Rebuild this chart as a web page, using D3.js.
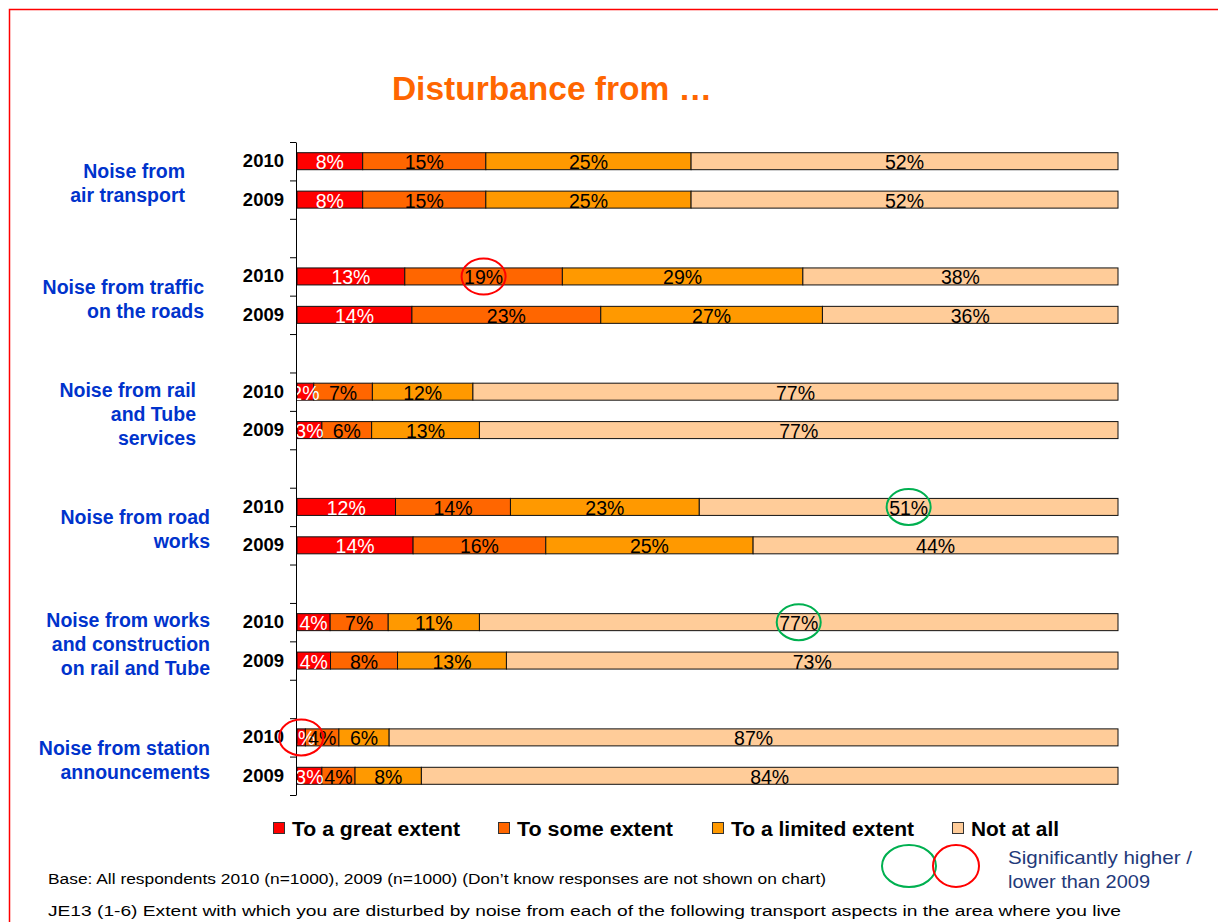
<!DOCTYPE html>
<html>
<head>
<meta charset="utf-8">
<script src="https://cdn.jsdelivr.net/npm/d3@7"></script>
<style>
  html, body { margin: 0; padding: 0; background: #fff; }
  svg { display: block; font-family: "Liberation Sans", Arial, sans-serif; }
</style>
</head>
<body>
<svg id="chart" width="1218" height="922"></svg>
<script>
const categories = [
  ["Noise from", "air transport"],
  ["Noise from traffic", "on the roads"],
  ["Noise from rail", "and Tube", "services"],
  ["Noise from road", "works"],
  ["Noise from works", "and construction", "on rail and Tube"],
  ["Noise from station", "announcements"]
];
const years = ["2010", "2009"];
const seriesNames = ["To a great extent", "To some extent", "To a limited extent", "Not at all"];
const seriesColors = ["#FF0000", "#FF6600", "#FF9900", "#FFCC99"];
const labelColors = ["#fff", "#000", "#000", "#000"];

// one row per category x year: [great, some, limited, not at all]
const values2010 = [
  [8, 15, 25, 52],
  [13, 19, 29, 38],
  [2, 7, 12, 77],
  [12, 14, 23, 51],
  [4, 7, 11, 77],
  [1, 4, 6, 87]
];
const values2009 = [
  [8, 15, 25, 52],
  [14, 23, 27, 36],
  [3, 6, 13, 77],
  [14, 16, 25, 44],
  [4, 8, 13, 73],
  [3, 4, 8, 84]
];
// significance markers: category index, year, series index, direction
const sigMarks = [
  { cat: 1, year: "2010", series: 1, dir: "lower" },
  { cat: 3, year: "2010", series: 3, dir: "higher" },
  { cat: 4, year: "2010", series: 3, dir: "higher" },
  { cat: 5, year: "2010", series: 0, dir: "lower" }
];

const svg = d3.select("#chart");
const W = 1218, H = 922;

// page frame
svg.append("rect").attr("x", 9.5).attr("y", 9.5).attr("width", W + 10).attr("height", H + 10)
  .attr("fill", "none").attr("stroke", "#FF0000").attr("stroke-width", 1.5);

svg.append("text").attr("x", 552).attr("y", 100).attr("text-anchor", "middle")
  .attr("fill", "#FF6600").attr("font-size", 33.5).attr("font-weight", "bold")
  .text("Disturbance from \u2026");

// rows: 2010, 2009 per category, with a blank slot between groups
const rows = [];
categories.forEach((c, i) => {
  rows.push({ cat: i, year: "2010", vals: values2010[i], slot: i * 3 });
  rows.push({ cat: i, year: "2009", vals: values2009[i], slot: i * 3 + 1 });
});
const nSlots = categories.length * 3 - 1;

const x0 = 297, x1 = 1118, yTop = 142, yBot = 795;
const x = d3.scaleLinear().domain([0, 1]).range([x0, x1]);
const ySlot = d3.scaleLinear().domain([0, nSlots]).range([yTop, yBot]);
const slotH = ySlot(1) - ySlot(0);
const barH = 17;

const stack = d3.stack().keys(d3.range(4)).value((d, k) => d.vals[k]).offset(d3.stackOffsetExpand);
const stacked = stack(rows);

svg.append("defs").append("clipPath").attr("id", "plotClip")
  .append("rect").attr("x", x0).attr("y", yTop).attr("width", x1 - x0 + 2).attr("height", yBot - yTop);

const plot = svg.append("g").attr("clip-path", "url(#plotClip)");

const segs = [];
stacked.forEach((layer, k) => {
  layer.forEach((s, r) => {
    segs.push({ k, row: rows[r], a: s[0], b: s[1], v: rows[r].vals[k] });
  });
});
const yc = d => ySlot(d.row.slot) + slotH / 2;

plot.selectAll("rect.seg").data(segs).join("rect").attr("class", "seg")
  .attr("x", d => x(d.a)).attr("y", d => yc(d) - barH / 2)
  .attr("width", d => x(d.b) - x(d.a)).attr("height", barH)
  .attr("fill", d => seriesColors[d.k]).attr("stroke", "#111").attr("stroke-width", 1);

plot.selectAll("text.val").data(segs).join("text").attr("class", "val")
  .attr("x", d => (x(d.a) + x(d.b)) / 2).attr("y", d => yc(d) + 8)
  .attr("text-anchor", "middle").attr("font-size", 19.5)
  .attr("fill", d => labelColors[d.k]).text(d => d.v + "%");

// axis
const axis = d3.axisLeft(ySlot).tickValues(d3.range(nSlots + 1)).tickFormat("").tickSize(6).tickSizeOuter(0);
svg.append("g").attr("transform", `translate(${x0 - 1},0)`).call(axis)
  .call(g => g.selectAll("line,path").attr("stroke", "#000"));

// year labels
svg.selectAll("text.year").data(rows).join("text").attr("class", "year")
  .attr("x", 284).attr("y", d => ySlot(d.slot) + slotH / 2 + 6)
  .attr("text-anchor", "end").attr("font-size", 18.5).attr("font-weight", "bold")
  .text(d => d.year);

// category labels (right edge of each label box differs slightly)
const labelRight = [185, 204, 196, 210, 210, 210];
categories.forEach((lines, i) => {
  const mid = ySlot(i * 3 + 1) + 4;
  const t = svg.append("text").attr("text-anchor", "end").attr("font-size", 19.5)
    .attr("font-weight", "bold").attr("fill", "#0033CC");
  lines.forEach((ln, j) => {
    t.append("tspan").attr("x", labelRight[i])
      .attr("y", mid + (j - (lines.length - 1) / 2) * 24 + 6).text(ln);
  });
});

// significance circles
const sigColor = { higher: "#00B050", lower: "#FF0000" };
sigMarks.forEach(m => {
  const seg = segs.find(s => s.row.cat === m.cat && s.row.year === m.year && s.k === m.series);
  svg.append("ellipse")
    .attr("cx", Math.max((x(seg.a) + x(seg.b)) / 2, x0 + 1)).attr("cy", yc(seg))
    .attr("rx", 22).attr("ry", 18).attr("fill", "none")
    .attr("stroke", sigColor[m.dir]).attr("stroke-width", 2);
});

// legend
const legX = [273, 498, 712, 952];
const legW = [168, 156, 183, 88];
const leg = svg.selectAll("g.leg").data(seriesNames).join("g").attr("class", "leg")
  .attr("transform", (d, i) => `translate(${legX[i]},828)`);
leg.append("rect").attr("x", 0.5).attr("y", -5.5).attr("width", 11).attr("height", 11)
  .attr("fill", (d, i) => seriesColors[i]).attr("stroke", "#333");
leg.append("text").attr("x", 19).attr("y", 8).attr("font-size", 20).attr("font-weight", "bold")
  .attr("textLength", (d, i) => legW[i]).attr("lengthAdjust", "spacingAndGlyphs")
  .text(d => d);

// significance key
svg.append("ellipse").attr("cx", 909).attr("cy", 866).attr("rx", 27).attr("ry", 21)
  .attr("fill", "none").attr("stroke", sigColor.higher).attr("stroke-width", 2);
svg.append("ellipse").attr("cx", 956).attr("cy", 866).attr("rx", 23).attr("ry", 21)
  .attr("fill", "none").attr("stroke", sigColor.lower).attr("stroke-width", 2);
svg.append("text").attr("x", 1008).attr("y", 864).attr("font-size", 19).attr("fill", "#1F3A7A")
  .attr("textLength", 184).attr("lengthAdjust", "spacingAndGlyphs").text("Significantly higher /");
svg.append("text").attr("x", 1008).attr("y", 888).attr("font-size", 19).attr("fill", "#1F3A7A")
  .attr("textLength", 142).attr("lengthAdjust", "spacingAndGlyphs").text("lower than 2009");

// footnotes
svg.append("text").attr("x", 48).attr("y", 884).attr("font-size", 14)
  .attr("textLength", 778).attr("lengthAdjust", "spacingAndGlyphs")
  .text("Base: All respondents 2010 (n=1000),  2009 (n=1000)  (Don\u2019t  know  responses are not shown on chart)");
svg.append("text").attr("x", 48).attr("y", 916).attr("font-size", 14)
  .attr("textLength", 1073).attr("lengthAdjust", "spacingAndGlyphs")
  .text("JE13 (1-6)  Extent with which you are disturbed by noise from each of the following transport aspects in the area where you live");
</script>
</body>
</html>
